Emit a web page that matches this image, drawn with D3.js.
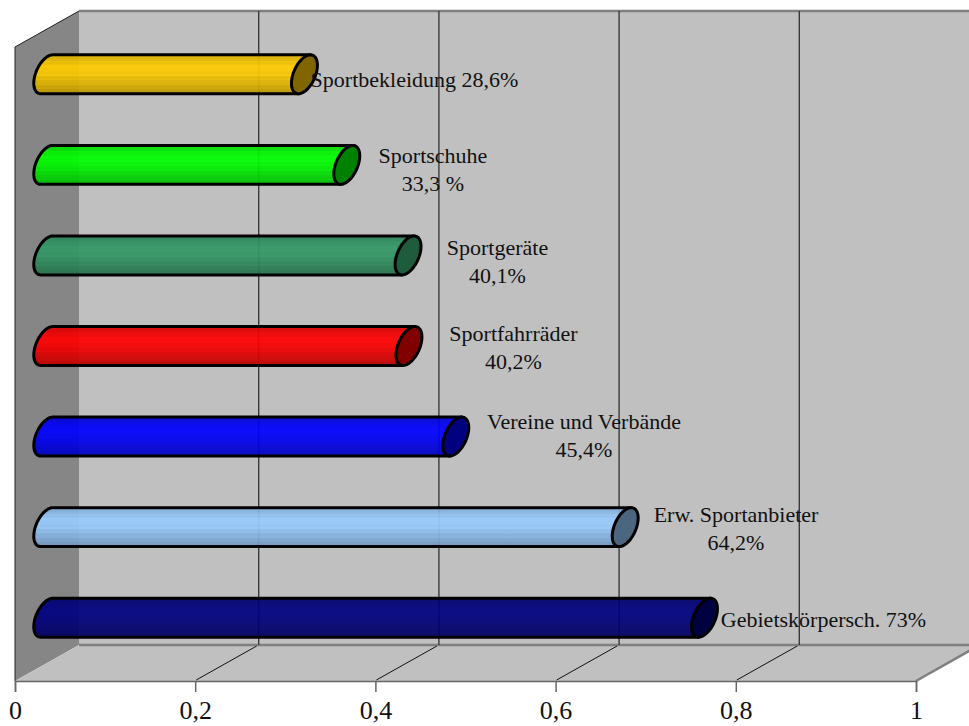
<!DOCTYPE html>
<html>
<head>
<meta charset="utf-8">
<style>
html,body{margin:0;padding:0;background:#fff}
svg{display:block}
text{font-family:"Liberation Serif","Times New Roman",serif;fill:#111}
</style>
<script src="https://cdn.jsdelivr.net/npm/d3@7/dist/d3.min.js"></script>
</head>
<body>
<svg id="chart" width="969" height="726"></svg>
<script>
// Anbieter, ordered from top to bottom of the chart
const categories = ["Sportbekleidung","Sportschuhe","Sportgeräte","Sportfahrräder","Vereine und Verbände","Erw. Sportanbieter","Gebietskörpersch."];
const shares = [0.286,0.333,0.401,0.402,0.454,0.642,0.73];
const labelLines = [
  ["Sportbekleidung 28,6%"],
  ["Sportschuhe","33,3 %"],
  ["Sportgeräte","40,1%"],
  ["Sportfahrräder","40,2%"],
  ["Vereine und Verbände","45,4%"],
  ["Erw. Sportanbieter","64,2%"],
  ["Gebietskörpersch. 73%"]
];
const bodyColors = ["#ffcc00","#00ff00","#339966","#ff0000","#0000ff","#99ccff","#000080"];
const capColors = ["#806600","#008000","#1f5c3d","#800000","#000080","#4d6680","#000040"];
const xTicks = [0,0.2,0.4,0.6,0.8,1];

// Oblique projection: the floor recedes by this offset from front to back
const depth = {x:63.5, y:-36};
const front = {left:15, right:916, bottom:681};
const backTop = 11;
const backBottom = front.bottom + depth.y;

const x = d3.scaleLinear().domain([0,1]).range([front.left, front.right]);
const y = d3.scaleBand().domain(categories).range([backTop + 18, backBottom + 18]).paddingInner(0.57).paddingOuter(0.285);

const svg = d3.select("#chart");
const defs = svg.append("defs");

// Cylinder shading in discrete bands: dim upper edge, highlight, dark lower edge
const shade = d3.scaleLinear().domain([0,0.12,0.32,0.5,0.72,1]).range([0.8,0.9,1,0.96,0.86,0.72]);
const bandCount = 26;
bodyColors.forEach((c,i)=>{
  const base = d3.rgb(c);
  const g = defs.append("linearGradient").attr("id","cyl"+i).attr("x1",0).attr("y1",0).attr("x2",0).attr("y2",1);
  d3.range(bandCount).forEach(b=>{
    const ripple = b % 3 === 1 ? 1.035 : 1;
    const k = Math.min(1, shade((b+0.5)/bandCount)*ripple);
    const col = d3.rgb(base.r*k,base.g*k,base.b*k).formatHex();
    g.append("stop").attr("offset",b/bandCount).attr("stop-color",col);
    g.append("stop").attr("offset",(b+1)/bandCount).attr("stop-color",col);
  });
});

const wallGrey = "#c0c0c0", sideGrey = "#868686", edge = "#808080";
const poly = pts => "M" + pts.map(p=>p.join(",")).join("L") + "Z";
const bx = v => x(v) + depth.x;
const wallLeft = Math.ceil(bx(0));

// Side wall, back wall and floor
svg.append("path").attr("d",poly([[x(0),front.bottom],[x(0),backTop-depth.y],[wallLeft,backTop],[wallLeft,backBottom]])).attr("fill",sideGrey);
svg.append("rect").attr("x",wallLeft).attr("y",backTop).attr("width",969-wallLeft).attr("height",backBottom-backTop).attr("fill",wallGrey);
svg.append("path").attr("d",poly([[x(0),front.bottom],[wallLeft,backBottom],[bx(1),backBottom],[x(1),front.bottom]])).attr("fill",wallGrey);

// Wall outlines
svg.append("line").attr("x1",wallLeft).attr("x2",969).attr("y1",backTop).attr("y2",backTop).attr("stroke",edge).attr("stroke-width",2.5);
svg.append("line").attr("x1",wallLeft).attr("x2",969).attr("y1",backBottom).attr("y2",backBottom).attr("stroke",edge).attr("stroke-width",2.5);
svg.append("line").attr("x1",x(1)).attr("y1",front.bottom).attr("x2",bx(1)).attr("y2",backBottom).attr("stroke",edge).attr("stroke-width",2.5);
svg.append("path").attr("d",`M${x(0)},${front.bottom}V${backTop-depth.y}L${wallLeft},${backTop}`).attr("fill","none").attr("stroke","#222").attr("stroke-width",1);

// Gridlines on the back wall with their floor segments
const inner = xTicks.filter(t=>t>0 && t<1);
svg.selectAll(".grid").data(inner).join("line").attr("class","grid")
  .attr("x1",bx).attr("x2",bx).attr("y1",backTop).attr("y2",backBottom).attr("stroke","#3a3a3a").attr("stroke-width",1.4);
svg.selectAll(".floor").data(inner).join("line").attr("class","floor")
  .attr("x1",d=>x(d)+1).attr("x2",d=>bx(d)-2).attr("y1",front.bottom-1).attr("y2",backBottom+1).attr("stroke","#111").attr("stroke-width",1);

// Front axis
const axis = d3.axisBottom(x).tickValues(xTicks).tickSize(11).tickPadding(9)
  .tickFormat(d=>String(d).replace(".",","));
const axisG = svg.append("g").attr("transform",`translate(0,${front.bottom})`).call(axis);
axisG.select(".domain").attr("stroke","#666").attr("stroke-width",1.5);
axisG.selectAll(".tick line").attr("stroke","#666").attr("stroke-width",1.5);
axisG.selectAll(".tick text").attr("font-size",26).style("font-family",'"Liberation Serif",serif').attr("fill","#111").attr("dy","0.71em");

// Cylinders: the end faces are sheared ellipses lying along the depth axis
const capLean = 6, capWidth = 11.5;
const ring = (cx,cy,h) => d3.range(0,64).map(k=>{
  const t = k/64*2*Math.PI;
  return [cx + capLean*Math.cos(t) + capWidth*Math.sin(t), cy - h*Math.cos(t)];
});
const barStart = x(0) + depth.x/2;
const barX = v => x(v) + depth.x/2;
const outline = (v,cy,h) => {
  const left = ring(barStart,cy,h).slice(32,64).concat([[barStart+capLean,cy-h]]);
  const right = [[barX(v)+capLean,cy-h],[barX(v)-capLean,cy+h]];
  return "M"+left.map(p=>p.join(",")).join("L")+"L"+right.map(p=>p.join(",")).join("L")+"Z";
};

categories.forEach((c,i)=>{
  const cy = y(c)+y.bandwidth()/2, h = y.bandwidth()/2, v = shares[i];
  const g = svg.append("g").attr("class","bar");
  g.append("path").attr("d",outline(v,cy,h)).attr("fill",`url(#cyl${i})`).attr("fill-opacity",0.93)
    .attr("stroke","#000").attr("stroke-width",3).attr("stroke-linejoin","round");
  g.append("path").attr("d",d3.line().curve(d3.curveLinearClosed)(ring(barX(v),cy,h))).attr("fill",capColors[i])
    .attr("stroke","#000").attr("stroke-width",3);
});

// Data labels
const labelPos = [[414.5,87],[433,163],[497.5,255],[513.5,341],[584,429],[736,522],[823.5,627]];
labelLines.forEach((lines,i)=>{
  const t = svg.append("text").attr("x",labelPos[i][0]).attr("y",labelPos[i][1]).attr("text-anchor","middle").attr("font-size",22);
  lines.forEach((s,k)=>t.append("tspan").attr("x",labelPos[i][0]).attr("dy",k?28:0).text(s));
});
</script>
</body>
</html>
